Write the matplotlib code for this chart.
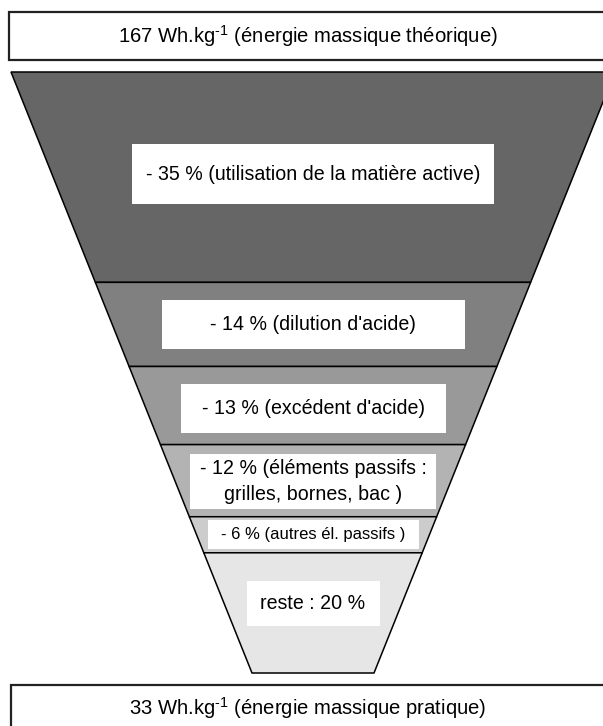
import matplotlib.pyplot as plt
from matplotlib.patches import Polygon, Rectangle

plt.rcParams['font.family'] = ['Liberation Sans', 'DejaVu Sans']
plt.rcParams['mathtext.fontset'] = 'custom'
plt.rcParams['mathtext.rm'] = 'Liberation Sans'
plt.rcParams['mathtext.it'] = 'Liberation Sans:italic'

# data
energie_theorique = 167
energie_pratique = 33
pertes = [35, 14, 13, 12, 6, 20]
labels = ["- 35 % (utilisation de la matière active)",
          "- 14 % (dilution d'acide)",
          "- 13 % (excédent d'acide)",
          "- 12 % (éléments passifs :\ngrilles, bornes, bac )",
          "- 6 % (autres él. passifs )",
          "reste : 20 %"]
gris = ['#666666', '#808080', '#999999', '#b3b3b3', '#cccccc', '#e6e6e6']

# layout (pixels)
W, H = 603, 726
cx = 313
y_top, px_par_pct = 72, 6.01
demi_haut, demi_bas = 302, 61
box_w = [362, 303, 265, 246, 211, 133]
box_h = [60, 49, 49, 55, 29, 45]
box_dy = [-3, 0, 3, 1, 0, -9]
tailles = [14.1, 14.1, 14.1, 14.1, 12, 14.1]

fig = plt.figure(figsize=(W / 100, H / 100), dpi=100)
ax = fig.add_axes([0, 0, 1, 1])
ax.set_xlim(0, W)
ax.set_ylim(H, 0)
ax.axis('off')


def demi(c):
    return demi_haut - (demi_haut - demi_bas) * c / 100


cum = 0
for p, lab, col, bw, bh, dy, fs in zip(pertes, labels, gris, box_w, box_h, box_dy, tailles):
    y0 = y_top + cum * px_par_pct
    y1 = y_top + (cum + p) * px_par_pct
    h0, h1 = demi(cum), demi(cum + p)
    ax.add_patch(Polygon([(cx - h0, y0), (cx + h0, y0), (cx + h1, y1), (cx - h1, y1)],
                         closed=True, facecolor=col, edgecolor='black', lw=1.1))
    yc = (y0 + y1) / 2 + dy
    ax.add_patch(Rectangle((cx - bw / 2, yc - bh / 2), bw, bh, facecolor='white', edgecolor='none'))
    ax.text(cx, yc, lab, ha='center', va='center', fontsize=fs, linespacing=1.45)
    cum += p

# boites haut et bas
exp = r"$^{\text{-1}}$"
ax.add_patch(Rectangle((9, 12), 620, 48, facecolor='white', edgecolor='#222222', lw=1.6))
ax.text(cx - 5, 36, f"{energie_theorique} Wh.kg{exp} (énergie massique théorique)",
        ha='center', va='center', fontsize=14.6)
ax.add_patch(Rectangle((11, 685), 620, 60, facecolor='white', edgecolor='#222222', lw=1.6))
ax.text(cx - 5, 708, f"{energie_pratique} Wh.kg{exp} (énergie massique pratique)",
        ha='center', va='center', fontsize=14.6)

fig.savefig('out.png', dpi=100)
